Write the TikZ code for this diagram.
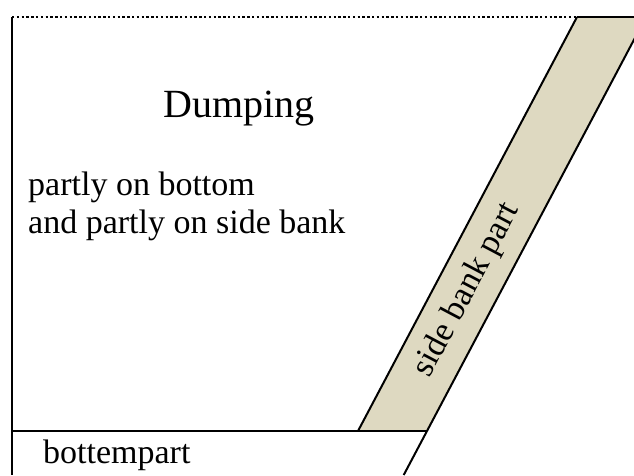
\documentclass[tikz,border=0pt]{standalone}
\usepackage{fontspec}
\setmainfont{Liberation Serif}
\definecolor{bankfill}{RGB}{222,217,193}

\begin{document}
\begin{tikzpicture}[
    x=1pt, y=-1pt,
    outline/.style={draw=black, line width=2pt},
    waterline/.style={draw=black, line width=2.2pt, dash pattern=on 2.4pt off 2.4pt},
    label/.style={inner sep=0pt, anchor=base west, font=\fontsize{34}{38}\selectfont},
    title/.style={label, font=\fontsize{40}{44}\selectfont}
]
\useasboundingbox (0,0) rectangle (634,475);

% ============ Side bank corners ============
\coordinate (bankTL) at (577,17);
\coordinate (bankTR) at (646,17);
\coordinate (bankBL) at (358,431);
\coordinate (bankBR) at (427,431);
\coordinate (bankfoot) at (403.7,475);
\coordinate (leftTop) at (12,17);
\coordinate (leftBot) at (12,475);
\coordinate (bedLeft) at (12,431);

% ============ Side bank strip ============
\begin{scope}
    \clip (0,0) rectangle (634,475);
    \fill[bankfill] (bankTL) -- (bankTR) -- (bankBR) -- (bankBL) -- cycle;
    \draw[outline] (bankTL) -- (bankBL);
    \draw[outline] (bankTR) -- (bankBR) -- (bankfoot);
    \draw[outline] (bankTL) -- (bankTR);
\end{scope}

% ============ Outline ============
\draw[waterline] (leftTop) -- (bankTL);
\draw[outline] (leftTop) -- (leftBot);
\draw[outline] (bedLeft) -- (bankBR);

% ============ Labels ============
\node[title] (dumping) at (163,117) {Dumping};
\node[label] (partlyone) at (28,195) {partly on bottom};
\node[label] (partlytwo) at (28,233) {and partly on side bank};
\node[label] (bottom) at (43,463) {bottempart};
\node[inner sep=0pt, font=\fontsize{34}{38}\selectfont, rotate=62.1] (sidebank) at (467,290) {side bank part};

\end{tikzpicture}
\end{document}
